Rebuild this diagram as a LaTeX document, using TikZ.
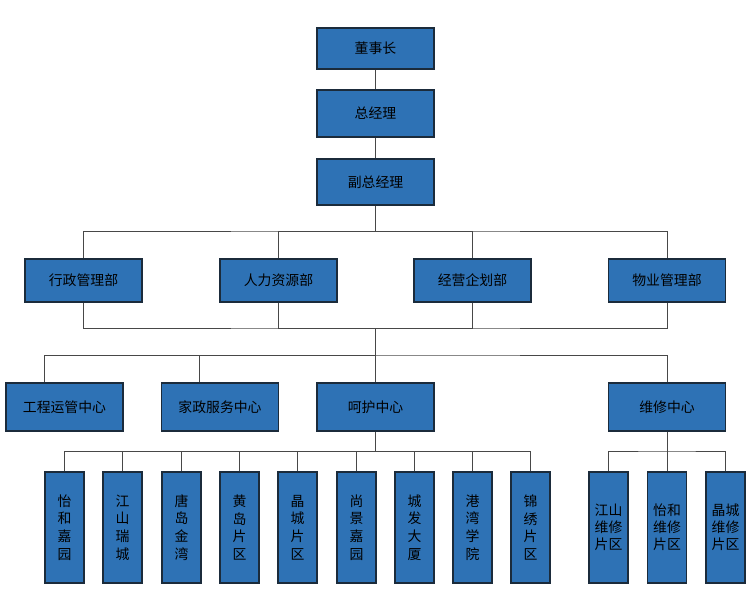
\documentclass[tikz,border=0pt]{standalone}
\usepackage{fontspec}
\newfontfamily\cjk{Noto Sans CJK SC}
\definecolor{boxfill}{HTML}{2E72B5}
\definecolor{boxline}{HTML}{1B2B3B}
\definecolor{conn}{HTML}{484848}
\begin{document}
\begin{tikzpicture}[x=0.75pt,y=-0.75pt,
  orgbox/.style={draw=boxline,fill=boxfill,line width=0.8pt,inner sep=0pt,
    font=\cjk\fontsize{10.4}{13.3}\selectfont,text=black,align=center},
  wide/.style={orgbox,minimum width=87.75pt},
  narrow/.style={orgbox,minimum width=29.25pt,minimum height=83.25pt},
  link/.style={draw=conn,line width=0.7pt}]
\useasboundingbox (0,0) rectangle (750,601);
% top
\node[wide,minimum height=30.75pt] (ceo) at (375.5,48.5) {董事长};
\node[wide,minimum height=35.25pt] (gm) at (375.5,113.5) {总经理};
\node[wide,minimum height=34.5pt] (vgm) at (375.5,182) {副总经理};
% departments
\node[wide,minimum height=32.25pt] (d1) at (83.5,280.5) {行政管理部};
\node[wide,minimum height=32.25pt] (d2) at (278.5,280.5) {人力资源部};
\node[wide,minimum height=32.25pt] (d3) at (472.5,280.5) {经营企划部};
\node[wide,minimum height=32.25pt] (d4) at (667,280.5) {物业管理部};
% centers
\node[wide,minimum height=36pt] (c1) at (64.5,407) {工程运管中心};
\node[wide,minimum height=36pt] (c2) at (220,407) {家政服务中心};
\node[wide,minimum height=36pt] (c3) at (375.5,407) {呵护中心};
\node[wide,minimum height=36pt] (c4) at (667,407) {维修中心};
% small boxes
\node[narrow] (s1) at (64.5,527.5) {怡\\和\\嘉\\园};
\node[narrow] (s2) at (122.5,527.5) {江\\山\\瑞\\城};
\node[narrow] (s3) at (181.5,527.5) {唐\\岛\\金\\湾};
\node[narrow] (s4) at (239.5,527.5) {黄\\岛\\片\\区};
\node[narrow] (s5) at (297.5,527.5) {晶\\城\\片\\区};
\node[narrow] (s6) at (356.5,527.5) {尚\\景\\嘉\\园};
\node[narrow] (s7) at (414.5,527.5) {城\\发\\大\\厦};
\node[narrow] (s8) at (472.5,527.5) {港\\湾\\学\\院};
\node[narrow] (s9) at (530.5,527.5) {锦\\绣\\片\\区};
\node[narrow,font=\cjk\fontsize{10.4}{12.8}\selectfont] (s10) at (608.5,527.5) {江山\\维修\\片区};
\node[narrow,font=\cjk\fontsize{10.4}{12.8}\selectfont] (s11) at (667,527.5) {怡和\\维修\\片区};
\node[narrow,font=\cjk\fontsize{10.4}{12.8}\selectfont] (s12) at (725.5,527.5) {晶城\\维修\\片区};
% bus coordinates
\coordinate (b1) at (375.5,231);
\coordinate (b2) at (375.5,328);
\coordinate (b3) at (375.5,355);
\coordinate (b4) at (375.5,451);
\coordinate (b5) at (667,451);
\coordinate (c1t) at ([xshift=-15pt]c1.north);
\coordinate (c2t) at ([xshift=-15.4pt]c2.north);
% connectors
\draw[link] (ceo.south) -- (gm.north);
\draw[link] (gm.south) -- (vgm.north);
\draw[link] (vgm.south) -- (b1);
\draw[link] (d1.north) |- (b1) -| (d4.north);
\draw[link] (d2.north) |- (b1);
\draw[link] (d3.north) |- (b1);
\draw[link] (d1.south) |- (b2) -| (d4.south);
\draw[link] (d2.south) |- (b2);
\draw[link] (d3.south) |- (b2);
\draw[link] (b2) -- (b3);
\draw[link] (c1t) |- (b3) -| (c4.north);
\draw[link] (c2t) |- (b3);
\draw[link] (b3) -- (c3.north);
\draw[link] (c3.south) -- (b4);
\draw[link] (s1.north) |- (b4) -| (s9.north);
\foreach \i in {2,...,8} {\draw[link] (s\i.north) |- (b4);}
\draw[link] (c4.south) -- (b5);
\draw[link] (s10.north) |- (b5) -| (s12.north);
\draw[link] (b5) -- (s11.north);
\end{tikzpicture}
\end{document}
